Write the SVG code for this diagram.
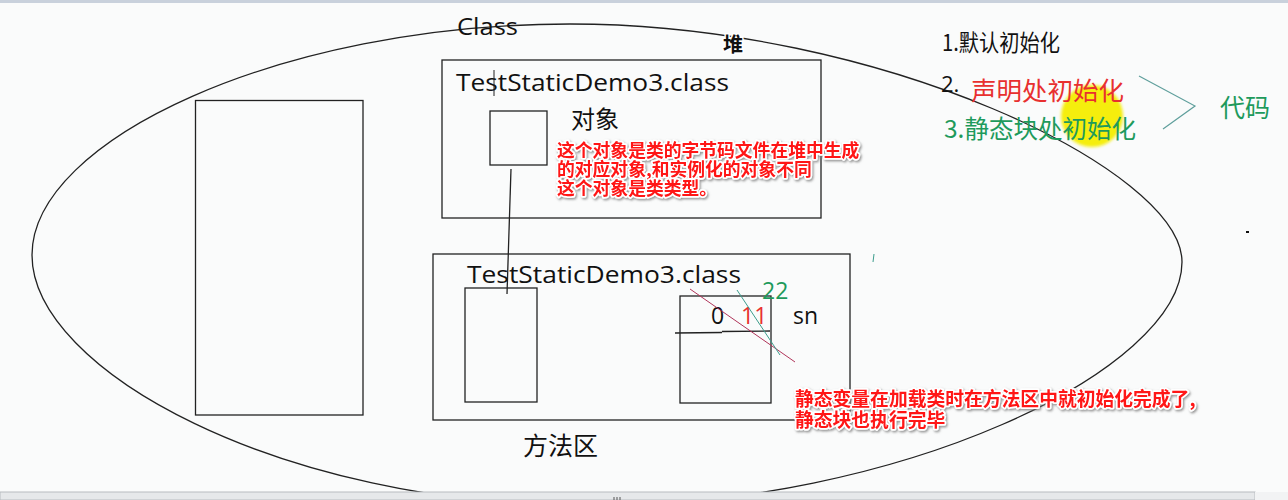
<svg xmlns="http://www.w3.org/2000/svg" width="1288" height="500" viewBox="0 0 1288 500">
<defs>
<filter id="sh" x="-5%" y="-20%" width="110%" height="140%">
<feDropShadow dx="1.2" dy="1.5" stdDeviation="1" flood-color="#777" flood-opacity="0.8"/>
</filter>
<filter id="blur" x="-20%" y="-20%" width="140%" height="140%"><feGaussianBlur stdDeviation="1.5"/></filter>
</defs>
<style>
.box{fill:none;stroke:#222;stroke-width:1.3}
.t{font-family:"Open Sans","Noto Sans CJK SC",sans-serif;fill:#111}
.cjk{font-family:"Noto Sans CJK SC","Noto Sans",sans-serif}
.note{font-family:"Noto Sans CJK SC",sans-serif;font-weight:bold;fill:#ff1414;stroke:#fff;stroke-width:3.5;paint-order:stroke;stroke-linejoin:round;filter:url(#sh)}
.green{fill:#1e9a5c}
.red{fill:#e8302f}
</style>
<rect width="1288" height="500" fill="#fafbfb"/>
<rect width="1288" height="3" fill="#c9d1dc"/>

<g id="connectors">
<path id="heap-ellipse" d="M32,255 C32,140 280,24 570,24 C880,24 1182,170 1182,262 C1182,370 900,506 590,506 C280,506 32,370 32,255 Z" fill="none" stroke="#222" stroke-width="1.3"/>
<line x1="511" y1="169" x2="507" y2="294" stroke="#222" stroke-width="1.3"/>
<polyline points="1139,76 1195,106 1163,129" fill="none" stroke="#5f9f9c" stroke-width="1.2"/>
</g>

<g id="yellow-highlight">
<circle cx="1092" cy="116" r="31" fill="#f5ee10" filter="url(#blur)"/>
</g>

<g id="class-label"><text class="t" x="457" y="35" font-size="24" textLength="61" lengthAdjust="spacingAndGlyphs">Class</text></g>
<g id="heap-label"><text class="cjk" x="723" y="52" font-size="20" font-weight="bold" fill="#111" stroke="#fff" stroke-width="3" paint-order="stroke">堆</text></g>

<g id="left-rect"><rect class="box" x="195.5" y="100.5" width="167.5" height="314.5"/></g>

<g id="heap-class-box">
<rect class="box" x="442" y="60" width="379" height="158"/>
<text class="t" x="456" y="91" font-size="24" textLength="273" lengthAdjust="spacingAndGlyphs">TestStaticDemo3.class</text>
<line x1="494" y1="70" x2="494" y2="96" stroke="#222" stroke-width="1"/>
</g>

<g id="class-object">
<rect class="box" x="490" y="111" width="57" height="54"/>
<text class="t cjk" x="571" y="128" font-size="24">对象</text>
</g>

<g id="note-heap">
<text class="note" font-size="17.8"><tspan x="557" y="157">这个对象是类的字节码文件在堆中生成</tspan><tspan x="557" y="176">的对应对象,和实例化的对象不同</tspan><tspan x="557" y="195">这个对象是类类型。</tspan></text>
</g>

<g id="method-area">
<rect class="box" x="433" y="254" width="417" height="166"/>
<text class="t" x="467" y="283" font-size="24" textLength="274" lengthAdjust="spacingAndGlyphs">TestStaticDemo3.class</text>
<text class="t cjk" x="523" y="455" font-size="25">方法区</text>
</g>

<g id="method-inner-rect"><rect class="box" x="465" y="288" width="72" height="114"/></g>

<g id="static-var">
<rect class="box" x="680" y="296" width="91" height="107"/>
<line x1="675" y1="333" x2="722" y2="332.5" stroke="#222" stroke-width="1.3"/>
<line x1="722" y1="331.5" x2="770" y2="331" stroke="#222" stroke-width="1.3"/>
<text class="t" x="711" y="324" font-size="23">0</text>
<text class="t red" x="741" y="324" font-size="23">11</text>
<text class="t green" x="762" y="299" font-size="23">22</text>
<text class="t" x="793" y="324" font-size="23">sn</text>
<line x1="690" y1="289" x2="795" y2="362" stroke="#b0355a" stroke-width="1"/>
<line x1="737" y1="290" x2="780" y2="355" stroke="#3c9c8c" stroke-width="1"/>
</g>

<g id="note-method">
<text class="note" font-size="18.8"><tspan x="795" y="406">静态变量在加载类时在方法区中就初始化完成了,</tspan><tspan x="795" y="427">静态块也执行完毕</tspan></text>
</g>

<g id="init-list">
<text class="t cjk" x="942" y="51" font-size="23" textLength="118" lengthAdjust="spacingAndGlyphs">1.默认初始化</text>
<text class="t" x="941" y="92" font-size="22">2.</text>
<text class="cjk red" x="971" y="100" font-size="25.5">声明处初始化</text>
<text class="cjk green" x="944" y="138" font-size="24.5">3.静态块处初始化</text>
<text class="cjk green" x="1220" y="117" font-size="25">代码</text>
</g>

<g id="marks">
<rect x="1246" y="231" width="3" height="2" fill="#111"/>
<line x1="874" y1="254" x2="873" y2="262" stroke="#3c9c8c" stroke-width="1"/>
</g>

<g id="scrollbar">
<rect x="0" y="492" width="1255" height="8" fill="#e6e8ea" stroke="#b8bcc0" stroke-width="1"/>
<rect x="1255" y="492" width="33" height="8" fill="#f2f3f4"/>
<path d="M614,497v3M617,497v3M620,497v3" stroke="#555" stroke-width="1"/>
</g>
</svg>
